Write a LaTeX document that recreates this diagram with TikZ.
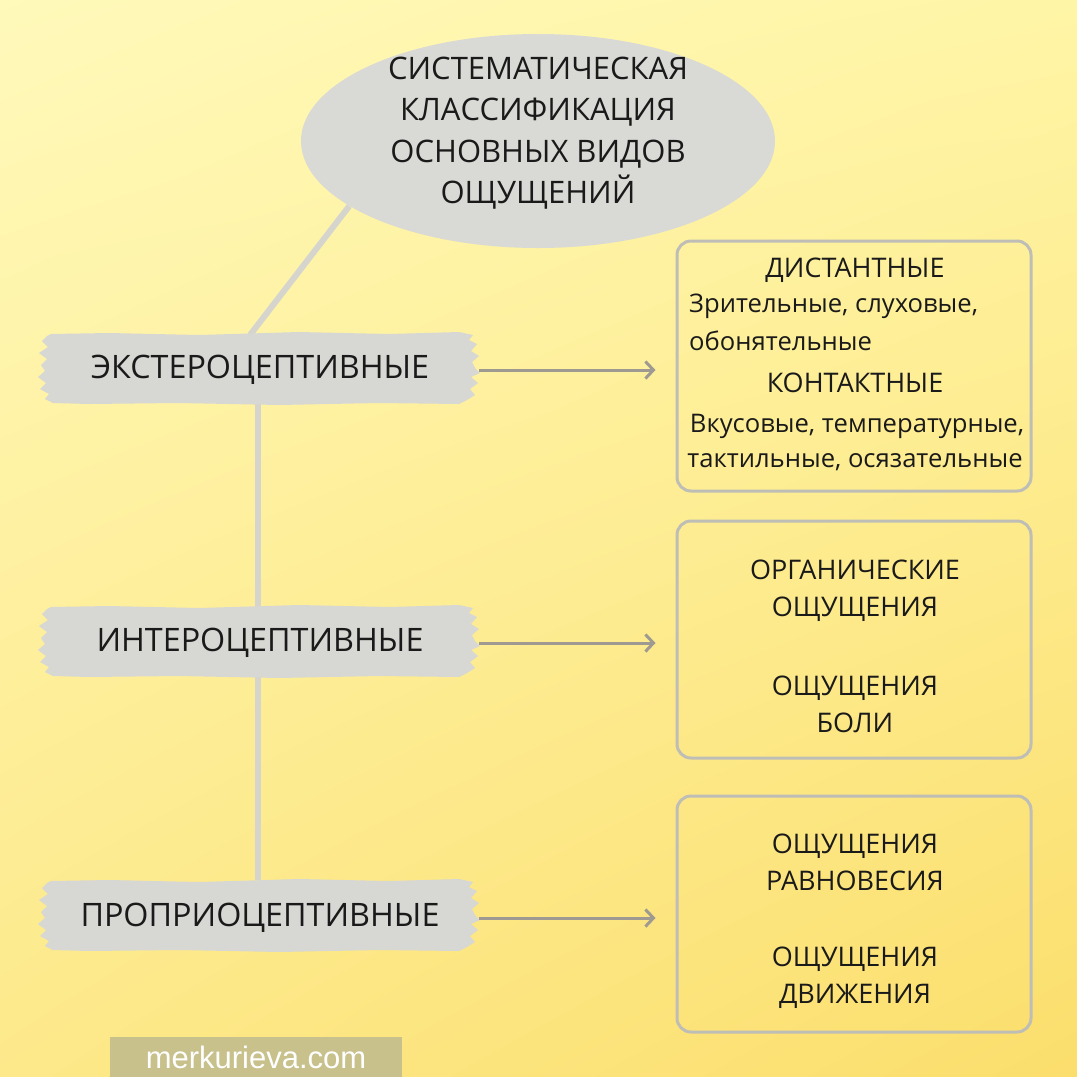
\documentclass[tikz,border=0pt]{standalone}
\usepackage{fontspec}
\setmainfont{Open Sans}
\newfontfamily\wmfont{Liberation Sans}
\usetikzlibrary{arrows.meta,calc,shapes.geometric,shadings}
\pgfdeclarelayer{bga}
\pgfdeclarelayer{bgb}
\pgfdeclarelayer{bgc}
\pgfsetlayers{bga,bgb,bgc,main}
\definecolor{bgUL}{HTML}{FFF9BA}
\definecolor{bgUR}{HTML}{FFF5A6}
\definecolor{bgLL}{HTML}{FDE98A}
\definecolor{bgLR}{HTML}{FBDE6C}
\definecolor{ellgray}{HTML}{D9D9D5}
\definecolor{brushgray}{HTML}{D7D7D3}
\definecolor{linegray}{HTML}{D5D5CE}
\definecolor{arrgray}{HTML}{9E9A92}
\definecolor{boxgray}{HTML}{BEBDB6}
\definecolor{txt}{HTML}{1A1A1A}
\definecolor{wmbox}{HTML}{C8C18C}
\tikzset{
  labeltext/.style={text=txt, font=\fontsize{32.3}{38}\selectfont, minimum width=438pt, minimum height=72pt, inner sep=0pt},
  boxstyle/.style={draw=boxgray, line width=3pt, rounded corners=14pt, fill=none},
  arr/.style={draw=arrgray, line width=3pt, -{Straight Barb[length=8pt,width=17pt,line width=3pt]}, shorten >=20pt},
  conn/.style={draw=linegray, line width=6pt},
  boxtxt/.style={text=txt, font=\fontsize{27}{37}\selectfont, inner sep=0pt, anchor=center},
  smalltxt/.style={text=txt, font=\fontsize{25.6}{37}\selectfont, inner sep=0pt},
  brushfill/.style={fill=brushgray, draw=none}
}
\newcommand{\brushat}[2]{%
  \fill[brushgray, shift={(#1,#2)}]
   (-208,-34) -- (-150,-35) -- (-60,-33) -- (40,-36) -- (130,-34) -- (200,-36)
   -- (214,-33) -- (210,-28) -- (218,-24) -- (212,-17) -- (220,-12) -- (213,-6)
   -- (216,0) -- (221,5) -- (212,9) -- (219,15) -- (211,21) -- (216,27) -- (208,32) -- (200,36)
   -- (120,35) -- (20,37) -- (-80,35) -- (-170,36) -- (-206,35)
   -- (-214,31) -- (-210,26) -- (-219,21) -- (-213,15) -- (-221,9) -- (-214,3)
   -- (-218,-3) -- (-212,-9) -- (-220,-15) -- (-211,-21) -- (-217,-27) -- (-212,-32) -- cycle;}
\begin{document}
\begin{tikzpicture}[x=1pt,y=-1pt]
\useasboundingbox (0,0) rectangle (1077,1077);
\begin{pgfonlayer}{bga}
\shade[upper left=bgUL, upper right=bgUR, lower left=bgLL, lower right=bgLR] (0,0) rectangle (1077,1077);
\end{pgfonlayer}

% ellipse
\node[ellipse, fill=ellgray, minimum width=474pt, minimum height=214pt, inner sep=0pt] (ell) at (538,141) {};
\node[text=txt, font=\fontsize{31}{41.5}\selectfont, align=center, inner sep=0pt] (elltxt) at (538,133)
  {СИСТЕМАТИЧЕСКАЯ\\КЛАССИФИКАЦИЯ\\ОСНОВНЫХ ВИДОВ\\ОЩУЩЕНИЙ};

% labels
\node[labeltext] (ext) at (260,370) {ЭКСТЕРОЦЕПТИВНЫЕ};
\node[labeltext] (int) at (260,643) {ИНТЕРОЦЕПТИВНЫЕ};
\node[labeltext] (pro) at (260,918) {ПРОПРИОЦЕПТИВНЫЕ};

\begin{pgfonlayer}{bgc}
\brushat{259}{368}
\brushat{259}{641}
\brushat{259}{915}
\end{pgfonlayer}

% boxes
\node[boxstyle, minimum width=354pt, minimum height=250pt] (b1) at (854,366) {};
\node[boxstyle, minimum width=354pt, minimum height=237pt] (b2) at (854,639.5) {};
\node[boxstyle, minimum width=354pt, minimum height=236pt] (b3) at (854,914) {};

% box 1 text
\node[boxtxt] (t11) at (855,270) {ДИСТАНТНЫЕ};
\node[smalltxt, anchor=west] (t12) at (689,306) {Зрительные, слуховые,};
\node[smalltxt, anchor=west] (t13) at (689,341) {обонятельные};
\node[boxtxt] (t14) at (855,383) {КОНТАКТНЫЕ};
\node[smalltxt] (t15) at (857,426) {Вкусовые, температурные,};
\node[smalltxt] (t16) at (855,462) {тактильные, осязательные};

% box 2 text
\node[boxtxt, align=center] (t21) at (855,591) {ОРГАНИЧЕСКИЕ\\ОЩУЩЕНИЯ};
\node[boxtxt, align=center] (t22) at (855,704) {ОЩУЩЕНИЯ\\БОЛИ};

% box 3 text
\node[boxtxt, align=center] (t31) at (855,862) {ОЩУЩЕНИЯ\\РАВНОВЕСИЯ};
\node[boxtxt, align=center] (t32) at (855,978) {ОЩУЩЕНИЯ\\ДВИЖЕНИЯ};

% connectors
\begin{pgfonlayer}{bgb}
\coordinate (exttop) at (250,335);
\draw[conn] (ell.199) -- (exttop);
\draw[conn] (258,400) -- (258,880);
\end{pgfonlayer}
\draw[arr] (ext.east) -- (b1.west |- ext.east);
\draw[arr] (int.east) -- (b2.west |- int.east);
\draw[arr] (pro.east) -- (b3.west |- pro.east);

% watermark
\node[fill=wmbox, minimum width=292pt, minimum height=40pt, inner sep=0pt, text=white,
      font=\wmfont\fontsize{31}{34}\selectfont] (wm) at (256,1057) {merkurieva.com};
\end{tikzpicture}
\end{document}
